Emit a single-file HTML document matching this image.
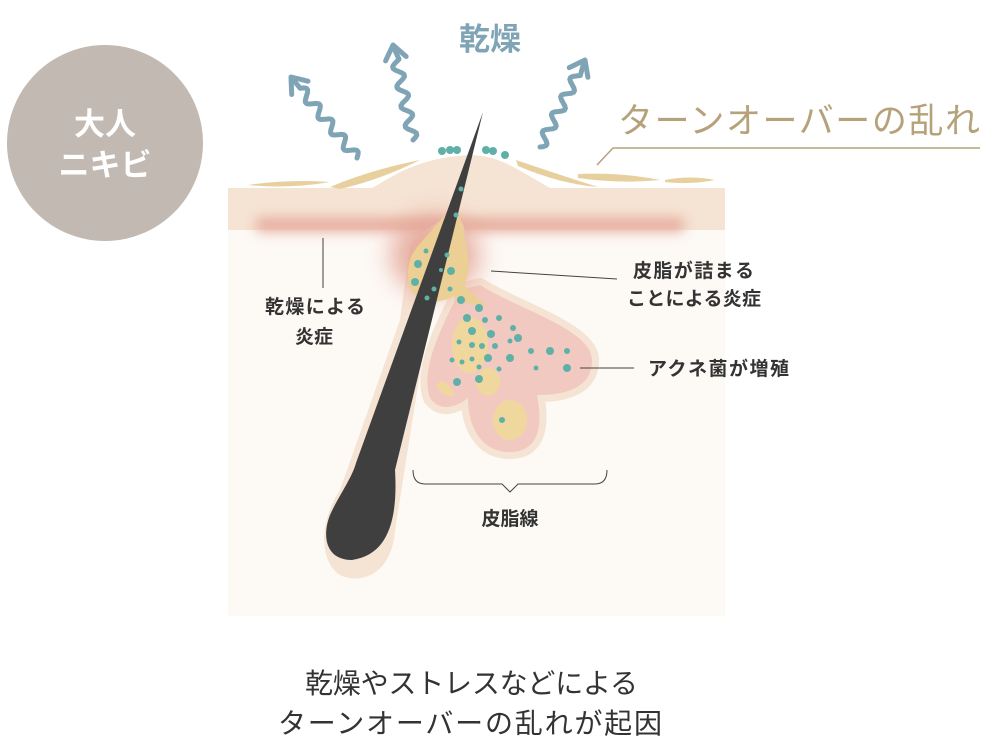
<!DOCTYPE html>
<html><head><meta charset="utf-8">
<style>
html,body{margin:0;padding:0;background:#fff;}
svg{display:block;}
text{font-family:"Liberation Sans","Noto Sans CJK JP",sans-serif;}
</style></head>
<body>
<svg id="s" width="1000" height="750" viewBox="0 0 1000 750" xmlns="http://www.w3.org/2000/svg">
<defs>
<filter id="b1" x="-20%" y="-200%" width="140%" height="500%"><feGaussianBlur stdDeviation="6"/></filter>
<filter id="b2" x="-50%" y="-50%" width="200%" height="200%"><feGaussianBlur stdDeviation="12"/></filter>
</defs>
<circle cx="105" cy="143" r="98" fill="#c1b9b2"/>
<text x="105" y="135" font-size="31" font-weight="bold" fill="#fff" text-anchor="middle">大人</text>
<text x="105" y="176" font-size="31" font-weight="bold" fill="#fff" text-anchor="middle">ニキビ</text>
<text x="490" y="50" font-size="31" font-weight="bold" fill="#7fa4b5" text-anchor="middle">乾燥</text>
<text x="618" y="133" font-size="35" fill="#b5a27a" textLength="362">ターンオーバーの乱れ</text>
<polyline points="597,165 613,148 980,148" fill="none" stroke="#b5a27a" stroke-width="1.5"/>
<rect x="228" y="228" width="497" height="388" fill="#fdf9f5"/>
<path d="M228,188 L372,188 C400,172 420,158 470,155 C500,156 515,168 550,188 L725,188 L725,230 L228,230 Z" fill="#f5e3d3"/>
<rect x="255" y="218" width="430" height="14" rx="7" fill="#e4a596" filter="url(#b1)" opacity="0.9"/>
<g fill="#e8d09e">
<path d="M248,185 Q290,179 330,182 Q290,189 248,185Z"/>
<path d="M330,187 Q370,170 420,160 Q380,180 340,189Z"/>
<path d="M516,160 Q560,175 598,187 Q560,184 518,166Z"/>
<path d="M578,174 Q620,172 660,180 Q620,184 578,178Z"/>
<path d="M665,180 Q690,175 715,180 Q690,185 665,182Z"/>
</g>
<path d="M460,290 C440,330 420,370 430,398 C440,412 455,408 468,398 C468,425 480,452 510,452 C542,452 542,420 537,395 C562,395 592,390 592,360 C592,330 520,310 480,285 Z" fill="#f5e3d3" stroke="#f5e3d3" stroke-width="14" stroke-linejoin="round"/>
<path d="M460,290 C440,330 420,370 430,398 C440,412 455,408 468,398 C468,425 480,452 510,452 C542,452 542,420 537,395 C562,395 592,390 592,360 C592,330 520,310 480,285 Z" fill="#f2c9c0"/>
<ellipse cx="470" cy="345" rx="18" ry="28" fill="#f0d79e"/>
<ellipse cx="510" cy="420" rx="17" ry="20" fill="#f0d79e"/>
<ellipse cx="488" cy="382" rx="12" ry="14" fill="#f0d79e"/>
<path d="M436,385 Q445,375 455,395 Q445,400 436,385Z" fill="#f0d79e"/>
<path d="M410,245 C440,215 470,200 465,250 C460,280 440,300 430,310 L395,530 C392,575 360,585 340,575 C318,560 320,520 340,490 L400,320 Z" fill="#f5e3d3"/>
<ellipse cx="435" cy="255" rx="45" ry="40" fill="#e4a596" filter="url(#b2)" opacity="0.85"/>
<path d="M455,200 C462,225 470,250 468,272 C465,295 445,305 425,300 C405,295 405,270 412,255 C420,240 440,225 455,200Z" fill="#ebcf95"/>
<path d="M452,275 Q470,290 485,305 Q470,305 455,300Z" fill="#ebcf95"/>
<path d="M483,112 L395,470 C398,520 388,555 352,560 C325,560 322,535 330,515 C338,497 352,478 356,463 Z" fill="#3f3f3f"/>
<g fill="#5fb1a8">
<circle cx="442" cy="151" r="4"/><circle cx="450" cy="150" r="4"/><circle cx="457" cy="150" r="4"/>
<circle cx="486" cy="150" r="4"/><circle cx="493" cy="151" r="4"/><circle cx="505" cy="155" r="4"/>
<circle cx="461" cy="189" r="2.5"/><circle cx="456" cy="215" r="2.5"/>
<circle cx="426" cy="251" r="2.5"/><circle cx="447" cy="255" r="2.5"/><circle cx="418" cy="264" r="4"/><circle cx="451" cy="271" r="4"/>
<circle cx="441" cy="270" r="2"/><circle cx="415" cy="282" r="4"/><circle cx="434" cy="289" r="2.5"/><circle cx="450" cy="289" r="2.5"/>
<circle cx="427" cy="298" r="2.5"/><circle cx="461" cy="300" r="4"/>
<circle cx="479" cy="308" r="4"/><circle cx="467" cy="318" r="4"/><circle cx="485" cy="320" r="3"/>
<circle cx="499" cy="318" r="3"/><circle cx="472" cy="331" r="4"/><circle cx="491" cy="334" r="4"/><circle cx="513" cy="328" r="3"/>
<circle cx="459" cy="342" r="2.5"/><circle cx="472" cy="345" r="3"/><circle cx="482" cy="346" r="3"/><circle cx="495" cy="346" r="3"/>
<circle cx="510" cy="341" r="2.5"/><circle cx="518" cy="338" r="4"/><circle cx="531" cy="351" r="3"/><circle cx="550" cy="351" r="4"/>
<circle cx="567" cy="351" r="3"/><circle cx="452" cy="360" r="2.5"/><circle cx="462" cy="362" r="2.5"/><circle cx="472" cy="359" r="2.5"/>
<circle cx="488" cy="358" r="4"/><circle cx="510" cy="358" r="4"/><circle cx="499" cy="369" r="2.5"/><circle cx="479" cy="367" r="2.5"/>
<circle cx="457" cy="382" r="4"/><circle cx="479" cy="379" r="4"/><circle cx="536" cy="368" r="2.5"/><circle cx="567" cy="368" r="4"/>
<circle cx="502" cy="420" r="3"/>
</g>
<g stroke="#444" stroke-width="1" fill="none">
<line x1="323" y1="238" x2="323" y2="288"/>
<line x1="491" y1="271" x2="617" y2="279"/>
<line x1="580" y1="368" x2="634" y2="368"/>
<path d="M413,470 Q413,484 425,484 L502,484 L510,492 L518,484 L595,484 Q607,484 607,470"/>
</g>
<g font-size="19" fill="#333" font-weight="bold">
<text x="265" y="313" textLength="100">乾燥による</text>
<text x="295" y="343">炎症</text>
<text x="633" y="277" textLength="121">皮脂が詰まる</text>
<text x="627" y="305" textLength="134">ことによる炎症</text>
<text x="648" y="375" textLength="141">アクネ菌が増殖</text>
<text x="510" y="525" text-anchor="middle">皮脂線</text>
</g>
<g font-size="28" fill="#333">
<text x="305" y="693" textLength="333">乾燥やストレスなどによる</text>
<text x="278" y="733" textLength="384">ターンオーバーの乱れが起因</text>
</g>
<g id="waves" fill="none" stroke="#7fa4b5" stroke-width="5" stroke-linecap="round" stroke-linejoin="round"></g>
</svg>
<script>
(function(){
var g=document.getElementById('waves');
function wave(x0,y0,x1,y1,amp,per){
 var dx=x1-x0,dy=y1-y0,L=Math.sqrt(dx*dx+dy*dy),ux=dx/L,uy=dy/L,nx=-uy,ny=ux;
 var d='';var n=Math.floor(L-14);
 for(var t=0;t<=n;t+=2){var o=amp*Math.sin(t/per*2*Math.PI);var x=x0+ux*t+nx*o,y=y0+uy*t+ny*o;d+=(t?'L':'M')+x.toFixed(1)+','+y.toFixed(1);}
 d+='L'+(x1-ux*2).toFixed(1)+','+(y1-uy*2).toFixed(1);
 var p=document.createElementNS('http://www.w3.org/2000/svg','path');p.setAttribute('d',d);g.appendChild(p);
 var a=14,bx=x1-ux*a,by=y1-uy*a;
 var h=document.createElementNS('http://www.w3.org/2000/svg','path');
 h.setAttribute('d','M'+(bx+nx*a*0.75)+','+(by+ny*a*0.75)+'L'+x1+','+y1+'L'+(bx-nx*a*0.75)+','+(by-ny*a*0.75));
 g.appendChild(h);
}
wave(357,158,291,77,5,20);
wave(413,140,393,45,5,20);
wave(540,147,585,60,5,20);
})();
</script>
</body></html>
